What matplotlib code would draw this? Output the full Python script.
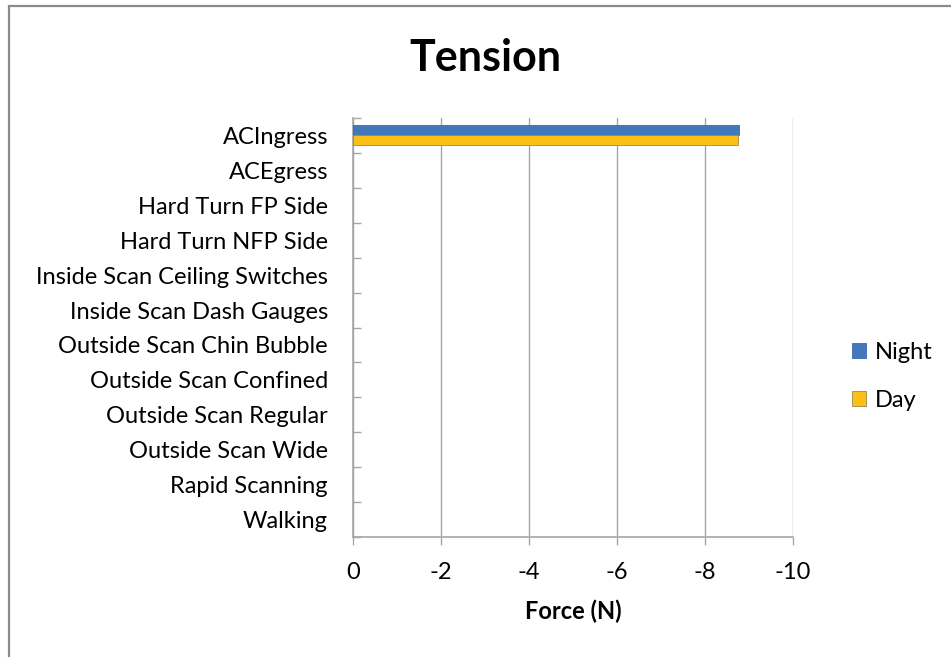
import matplotlib
matplotlib.use("Agg")
import matplotlib.pyplot as plt
from matplotlib.patches import Rectangle
import numpy as np

plt.rcParams["font.family"] = ["Lato", "DejaVu Sans"]

categories = [
    "ACIngress", "ACEgress", "Hard Turn FP Side", "Hard Turn NFP Side",
    "Inside Scan Ceiling Switches", "Inside Scan Dash Gauges",
    "Outside Scan Chin Bubble", "Outside Scan Confined",
    "Outside Scan Regular", "Outside Scan Wide", "Rapid Scanning", "Walking",
]
night = [-8.78, 0, 0, 0, 0, 0, 0, 0, 0, 0, 0, 0]
day = [-8.74, 0, 0, 0, 0, 0, 0, 0, 0, 0, 0, 0]
xticks = [0, -2, -4, -6, -8, -10]

NIGHT_C = "#4278bc"
DAY_C = "#fcbf16"
GRID_C = "#a6a6a6"
FS = 17

fig = plt.figure(figsize=(9.51, 6.57), dpi=100)
fig.patches.append(Rectangle((9 / 951, -0.1), 1.2, 1 - 6 / 657 + 0.1,
                             transform=fig.transFigure, fill=False,
                             edgecolor="#8a8a8a", linewidth=1.6))

ax = fig.add_axes([353 / 951, (657 - 537) / 657, 440 / 951, 419 / 657])

y = np.arange(len(categories))
h = 0.286
ax.barh(y - h / 2, night, height=h, color=NIGHT_C, edgecolor="#3a6aa8",
        linewidth=[0.6 if v else 0 for v in night], label="Night", zorder=3)
ax.barh(y + h / 2, day, height=h, color=DAY_C, edgecolor="#9a8a50",
        linewidth=[0.6 if v else 0 for v in day], label="Day", zorder=3)

ax.set_xlim(0, -10)
ax.set_ylim(len(categories) - 0.5, -0.5)
ax.set_xticks(xticks)
ax.set_xticklabels([str(t) for t in xticks], fontsize=FS)
ax.set_yticks(y)
ax.set_yticklabels(categories, fontsize=FS)
ax.set_yticks(np.arange(len(categories) + 1) - 0.5, minor=True)
ax.tick_params(axis="y", which="major", length=0, pad=18)
ax.tick_params(axis="y", which="minor", direction="in", length=6,
               color=GRID_C, width=1)
ax.tick_params(axis="x", which="major", direction="out", length=6,
               color=GRID_C, width=1, pad=12)
ax.grid(axis="x", color=GRID_C, linewidth=1, zorder=0)

for s in ("top", "right"):
    ax.spines[s].set_visible(False)
for s in ("left", "bottom"):
    ax.spines[s].set_color(GRID_C)
    ax.spines[s].set_linewidth(1.2)

ax.set_xlabel("Force (N)", fontsize=FS, fontweight="bold", labelpad=12)
fig.text(485 / 951, 1 - 58 / 657, "Tension", fontsize=31, fontweight="bold",
         ha="center", va="center")

ax.legend(loc="center left", bbox_to_anchor=(1.085, 0.383), frameon=False,
          fontsize=FS, handlelength=0.6, handleheight=0.6,
          handletextpad=0.4, labelspacing=1.15)

fig.savefig("out.png", dpi=100)
